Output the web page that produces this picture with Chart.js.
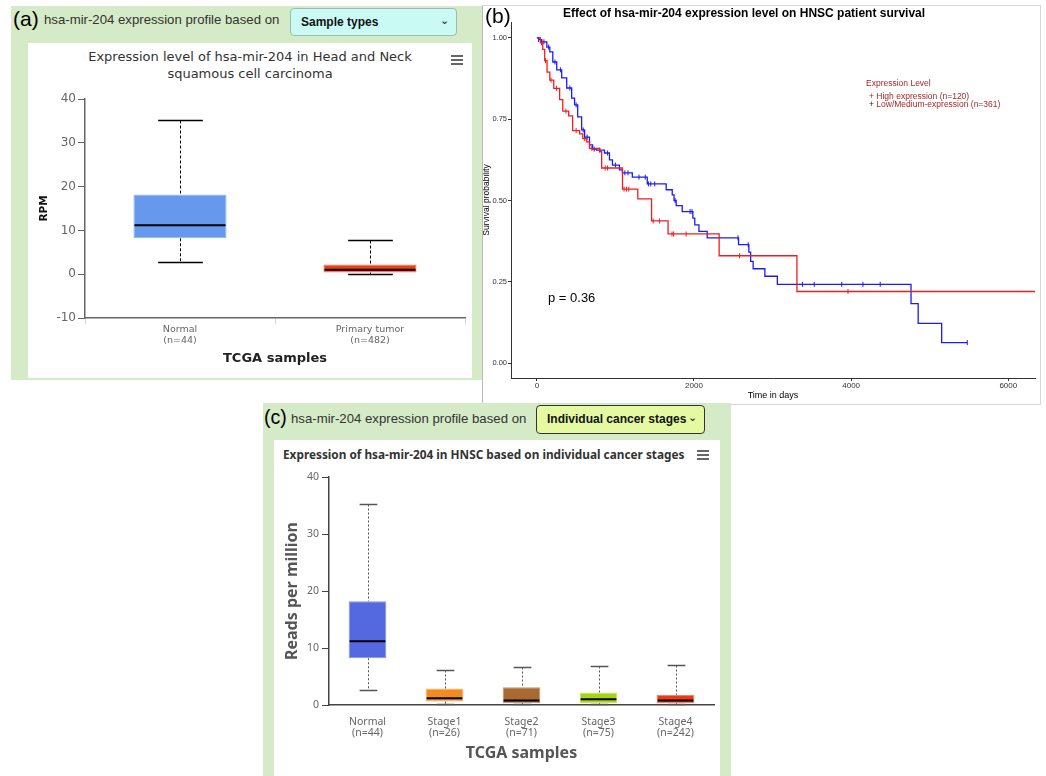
<!DOCTYPE html>
<html lang='en'>
  <head>
    <meta charset='UTF-8'>
    <title>hsa-mir-204 in HNSC</title>
    <script src='https://cdn.jsdelivr.net/npm/chart.js@4.4.1/dist/chart.umd.min.js'></script>
    <style>
      body { margin: 0; width: 1046px; height: 776px; overflow: hidden; background: #fff; font-family: 'Liberation Sans', Arial, sans-serif; position: relative; }
      .abs { position: absolute; }
      .green { background: #d5eac6; }
      .card { background: #fff; }
      .tag { font-size: 21px; color: #000; }
      .head { font-size: 13.2px; color: #333; white-space: nowrap; }
      .pick { font-size: 12px; font-weight: bold; color: #111; box-sizing: border-box; border-radius: 4px; padding-left: 10px; white-space: nowrap; }
      .pick span { position: absolute; right: 7px; top: -2px; font-weight: normal; font-size: 11px; }
      .burger div { height: 2px; width: 12px; background: #666; margin-bottom: 2px; }
      .leg { font-size: 8.5px; color: #a3282a; white-space: nowrap; }
    </style>
  </head>
  <body>
    <!-- (a) -->
    <div class='abs green' style='left:11px;top:6px;width:471px;height:374px'></div>
    <div class='abs tag' style='left:13px;top:7px'>(a)</div>
    <div class='abs head' style='left:44px;top:12px'>hsa-mir-204 expression profile based on</div>
    <div class='abs pick' style='left:290px;top:8px;width:167px;height:28px;line-height:26px;background:#c9fbf4;border:1px solid #9fb8b8'>Sample types<span>&#8964;</span></div>
    <div class='abs card' style='left:28px;top:43px;width:444px;height:335px'></div>
    <div class='abs' style='left:28px;top:48px;width:444px;text-align:center;font:13px "DejaVu Sans";color:#333;line-height:17px'>Expression level of hsa-mir-204 in Head and Neck<br>squamous cell carcinoma</div>
    <div class='abs burger' style='left:451px;top:55px'><div></div><div></div><div></div></div>
    <div class='abs' style='left:28px;top:43px;width:444px;height:335px'><canvas id='typeChart'></canvas></div>

    <!-- (b) -->
    <div class='abs' style='left:482px;top:5px;width:557px;height:398px;border:1px solid #d6d6d6;border-left:1px solid #bbb;background:#fff'></div>
    <div class='abs' style='left:483px;top:5px;width:557px;height:399px'><canvas id='survChart'></canvas></div>
    <div class='abs tag' style='left:485px;top:4px'>(b)</div>
    <div class='abs' style='left:563px;top:6px;font-size:12px;font-weight:bold;color:#000'>Effect of hsa-mir-204 expression level on HNSC patient survival</div>
    <div class='abs leg' style='left:866px;top:78px'>Expression Level</div>
    <div class='abs leg' style='left:869px;top:91px'><span style='color:#f00'>+</span>&nbsp;High expression (n=120)</div>
    <div class='abs leg' style='left:869px;top:99px'><span style='color:#00f'>+</span>&nbsp;Low/Medium-expression (n=361)</div>
    <div class='abs' style='left:548px;top:290px;font-size:13px;color:#000'>p = 0.36</div>

    <!-- (c) -->
    <div class='abs green' style='left:263px;top:403px;width:468px;height:373px'></div>
    <div class='abs tag' style='left:264px;top:406px;font-size:19.5px'>(c)</div>
    <div class='abs head' style='left:291px;top:411px'>hsa-mir-204 expression profile based on</div>
    <div class='abs pick' style='left:536px;top:405px;width:169px;height:29px;line-height:26px;background:#e4f9a1;border:1.5px solid #333'>Individual cancer stages<span>&#8964;</span></div>
    <div class='abs card' style='left:274px;top:440px;width:446px;height:336px'></div>
    <div class='abs' style='left:283px;top:446px;font:bold 11.8px "Noto Sans";color:#333;white-space:nowrap'>Expression of hsa-mir-204 in HNSC based on individual cancer stages</div>
    <div class='abs burger' style='left:697px;top:450px'><div></div><div></div><div></div></div>
    <div class='abs' style='left:274px;top:440px;width:445px;height:334px'><canvas id='stageChart'></canvas></div>

    <script>
      // (a) sample types
      const typeLabels = [['Normal', '(n=44)'], ['Primary tumor', '(n=482)']];
      const typeMin    = [2.7, 0.0];
      const typeQ1     = [8.2, 0.4];
      const typeMedian = [11.2, 1.0];
      const typeQ3     = [18.2, 2.2];
      const typeMax    = [35.2, 7.8];
      const typeTicks  = [-10, 0, 10, 20, 30, 40];

      // (b) Kaplan-Meier curves, [days, survival]
      const highCurve = [[0,1.0],[45,0.985],[75,0.965],[100,0.93],[130,0.895],[165,0.87],[215,0.845],[290,0.81],[330,0.775],[405,0.76],[455,0.715],[545,0.705],[585,0.69],[635,0.68],[670,0.66],[800,0.65],[825,0.60],[1090,0.535],[1285,0.505],[1460,0.437],[1670,0.397],[2320,0.33],[3310,0.22],[6340,0.22]];
      const lowCurve = [[0,1.0],[30,0.995],[63,0.988],[127,0.972],[165,0.957],[203,0.926],[253,0.902],[316,0.877],[380,0.846],[443,0.815],[480,0.794],[520,0.757],[570,0.717],[608,0.695],[670,0.671],[709,0.658],[760,0.655],[861,0.646],[924,0.625],[962,0.609],[1051,0.594],[1089,0.585],[1215,0.572],[1405,0.551],[1646,0.533],[1723,0.517],[1746,0.50],[1773,0.484],[1850,0.466],[1986,0.446],[2010,0.425],[2063,0.405],[2168,0.385],[2567,0.364],[2698,0.341],[2721,0.313],[2753,0.29],[2902,0.267],[3061,0.242],[4762,0.183],[4853,0.122],[5152,0.063],[5478,0.063]];
      const highCensor = [[60,0.985],[110,0.93],[180,0.87],[250,0.845],[370,0.775],[500,0.715],[610,0.69],[700,0.66],[870,0.60],[900,0.60],[1110,0.535],[1140,0.535],[1170,0.535],[1480,0.437],[1560,0.437],[1720,0.397],[1740,0.397],[1900,0.397],[2580,0.33],[3960,0.22]];
      const lowCensor = [[20,0.995],[90,0.988],[150,0.972],[230,0.926],[300,0.902],[420,0.846],[500,0.794],[590,0.717],[640,0.695],[730,0.658],[800,0.655],[900,0.646],[1000,0.609],[1120,0.585],[1160,0.585],[1300,0.572],[1380,0.572],[1420,0.551],[1450,0.551],[1500,0.551],[1760,0.50],[1950,0.466],[1975,0.466],[2560,0.385],[2690,0.364],[3380,0.242],[3530,0.242],[3880,0.242],[4150,0.242],[4370,0.242],[5478,0.063]];
      const survXTicks = [0, 2000, 4000, 6000];
      const survYTicks = [0, 0.25, 0.5, 0.75, 1];

      // (c) cancer stages
      const stageLabels = [['Normal', '(n=44)'], ['Stage1', '(n=26)'], ['Stage2', '(n=71)'], ['Stage3', '(n=75)'], ['Stage4', '(n=242)']];
      const stageMin    = [2.7, 0.2, 0.1, 0.1, 0.1];
      const stageQ1     = [8.2, 0.6, 0.3, 0.3, 0.3];
      const stageMedian = [11.2, 1.2, 0.8, 1.0, 0.8];
      const stageQ3     = [18.2, 2.9, 3.1, 2.2, 1.8];
      const stageMax    = [35.2, 6.1, 6.7, 6.9, 7.1];
      const stageTicks  = [0, 10, 20, 30, 40];

      const typeColors  = ['#6699ee', '#ee3d12'];
      const typeBorders = ['#8fb3f2', '#f4785a'];
      const stageColors  = ['#5468e0', '#f28c1e', '#a86a30', '#a8d414', '#ee3a10'];
      const stageBorders = ['#8593ea', '#f6b063', '#c4966a', '#c8e466', '#f47a5a'];

      // whiskers + median lines drawn through the chart's own scales
      function boxPlot(lo, q1, med, q3, hi, st) {
        function seg(ctx, x1, y1, x2, y2) {
          ctx.beginPath(); ctx.moveTo(x1, y1); ctx.lineTo(x2, y2); ctx.stroke();
        }
        return {
          id: 'boxplot',
          beforeDatasetsDraw(chart) {
            const {ctx, scales: {x, y}} = chart;
            const bars = chart.getDatasetMeta(0).data;
            ctx.save();
            ctx.strokeStyle = st.whisker;
            ctx.lineWidth = 1;
            lo.forEach((v, i) => {
              const cx = Math.round(x.getPixelForValue(i)) + 0.5;
              const half = bars[i].width * st.cap / 2;
              const yHi = Math.round(y.getPixelForValue(hi[i])) + 0.5;
              const yLo = Math.round(y.getPixelForValue(lo[i])) + 0.5;
              ctx.setLineDash(st.dash);
              seg(ctx, cx, yHi, cx, y.getPixelForValue(q3[i]));
              seg(ctx, cx, y.getPixelForValue(q1[i]), cx, yLo);
              ctx.setLineDash([]);
              ctx.lineWidth = st.capWidth;
              seg(ctx, cx - half, yHi, cx + half, yHi);
              seg(ctx, cx - half, yLo, cx + half, yLo);
              ctx.lineWidth = 1;
            });
            ctx.restore();
          },
          afterDatasetsDraw(chart) {
            const {ctx, scales: {x, y}} = chart;
            const bars = chart.getDatasetMeta(0).data;
            ctx.save();
            ctx.strokeStyle = '#000';
            ctx.lineWidth = st.median;
            med.forEach((v, i) => {
              const cx = x.getPixelForValue(i);
              const half = bars[i].width / 2 - 1;
              const yy = y.getPixelForValue(v);
              seg(ctx, cx - half, yy, cx + half, yy);
            });
            ctx.restore();
          }
        };
      }

      function fixed(list) {
        return scale => { scale.ticks = list.map(v => ({value: v})); };
      }

      // (a)
      new Chart(document.getElementById('typeChart'), {
        type: 'bar',
        data: {
          labels: typeLabels,
          datasets: [{
            data: typeQ1.map((v, i) => [v, typeQ3[i]]),
            backgroundColor: typeColors,
            borderColor: typeBorders,
            borderWidth: 1,
            borderSkipped: false,
            categoryPercentage: 1,
            barPercentage: 0.49,
          }]
        },
        options: {
          responsive: true,
          maintainAspectRatio: false,
          animation: false,
          layout: {padding: {top: 56, right: 7, left: 0, bottom: 0}},
          plugins: {legend: {display: false}, tooltip: {enabled: false}},
          scales: {
            x: {
              afterFit: s => { s.height = 60; },
              grid: {display: true, drawOnChartArea: false, tickLength: 6, color: '#ccd6eb'},
              border: {color: '#666', width: 1.5},
              ticks: {padding: 0, color: '#666', font: {family: 'DejaVu Sans', size: 9.5, lineHeight: 1.15}},
              title: {display: true, text: 'TCGA samples', color: '#222', font: {family: 'DejaVu Sans', size: 13, weight: 'bold'}, padding: {top: 0, bottom: 12}}
            },
            y: {
              min: -10, max: 40,
              afterFit: s => { s.width = 57; },
              afterBuildTicks: fixed(typeTicks),
              grid: {display: true, drawOnChartArea: false, tickLength: 7, color: '#666'},
              border: {color: '#666', width: 1.5},
              ticks: {padding: 2, color: '#666', font: {family: 'DejaVu Sans', size: 12}},
              title: {display: true, text: 'RPM', color: '#111', font: {family: 'DejaVu Sans', size: 10.5, weight: 'bold'}, padding: {top: 10, bottom: 0}}
            }
          }
        },
        plugins: [boxPlot(typeMin, typeQ1, typeMedian, typeQ3, typeMax, {whisker: '#000', dash: [3, 2], cap: 0.48, capWidth: 1.5, median: 2})]
      });

      // (b)
      const toXY = arr => arr.map(p => ({x: p[0], y: p[1]}));
      const censor = (arr, color) => ({
        type: 'scatter', data: toXY(arr), pointStyle: 'line', rotation: 90,
        radius: 2.5, borderColor: color, borderWidth: 1, showLine: false
      });
      new Chart(document.getElementById('survChart'), {
        type: 'line',
        data: {
          datasets: [
            {data: toXY(highCurve), stepped: true, borderColor: '#f21c1c', borderWidth: 1.3, pointRadius: 0, fill: false},
            {data: toXY(lowCurve), stepped: true, borderColor: '#1c1cf2', borderWidth: 1.3, pointRadius: 0, fill: false},
            censor(highCensor, '#f21c1c'),
            censor(lowCensor, '#1c1cf2')
          ]
        },
        options: {
          responsive: true,
          maintainAspectRatio: false,
          animation: false,
          layout: {padding: {top: 17, right: 2, left: 0, bottom: 0}},
          plugins: {legend: {display: false}, tooltip: {enabled: false}},
          scales: {
            x: {
              type: 'linear', min: -329, max: 6340,
              afterFit: s => { s.height = 26; },
              afterBuildTicks: fixed(survXTicks),
              grid: {display: true, drawOnChartArea: false, tickLength: 3, color: '#333'},
              border: {color: '#333', width: 1},
              ticks: {padding: 0, color: '#333', font: {family: 'Liberation Sans', size: 8}, callback: v => String(v)},
              title: {display: true, text: 'Time in days', color: '#000', font: {family: 'Liberation Sans', size: 9}, padding: {top: 0, bottom: 3}}
            },
            y: {
              type: 'linear', min: -0.046, max: 1.049,
              afterFit: s => { s.width = 28; },
              afterBuildTicks: fixed(survYTicks),
              grid: {display: true, drawOnChartArea: false, tickLength: 3, color: '#333'},
              border: {color: '#333', width: 1},
              ticks: {padding: 1, color: '#333', font: {family: 'Liberation Sans', size: 7.5}, callback: v => v.toFixed(2)},
              title: {display: true, text: 'Survival probability', color: '#000', font: {family: 'Liberation Sans', size: 8.5}, padding: {top: -1, bottom: 0}}
            }
          }
        }
      });

      // (c)
      new Chart(document.getElementById('stageChart'), {
        type: 'bar',
        data: {
          labels: stageLabels,
          datasets: [{
            data: stageQ1.map((v, i) => [v, stageQ3[i]]),
            backgroundColor: stageColors,
            borderColor: stageBorders,
            borderWidth: 1,
            borderSkipped: false,
            categoryPercentage: 1,
            barPercentage: 0.49,
          }]
        },
        options: {
          responsive: true,
          maintainAspectRatio: false,
          animation: false,
          layout: {padding: {top: 37, right: 5, left: 0, bottom: 0}},
          plugins: {legend: {display: false}, tooltip: {enabled: false}},
          scales: {
            x: {
              afterFit: s => { s.height = 69; },
              grid: {display: false, drawTicks: false},
              border: {color: '#444', width: 1.5},
              ticks: {padding: 11, color: '#666', font: {family: 'Noto Sans', size: 10.5, lineHeight: 1.1}},
              title: {display: true, text: 'TCGA samples', color: '#555', font: {family: 'Noto Sans', size: 16, weight: 'bold'}, padding: {top: 0, bottom: 11}}
            },
            y: {
              min: 0, max: 40,
              afterFit: s => { s.width = 55; },
              afterBuildTicks: fixed(stageTicks),
              grid: {display: true, drawOnChartArea: false, tickLength: 7, color: '#444'},
              border: {color: '#444', width: 1.5},
              ticks: {padding: 3, color: '#666', font: {family: 'Noto Sans', size: 10.5}},
              title: {display: true, text: 'Reads per million', color: '#555', font: {family: 'Noto Sans', size: 16, weight: 'bold'}, padding: {top: 9, bottom: 0}}
            }
          }
        },
        plugins: [boxPlot(stageMin, stageQ1, stageMedian, stageQ3, stageMax, {whisker: '#555', dash: [2, 2], cap: 0.47, capWidth: 1.5, median: 2})]
      });
    </script>
  </body>
</html>
